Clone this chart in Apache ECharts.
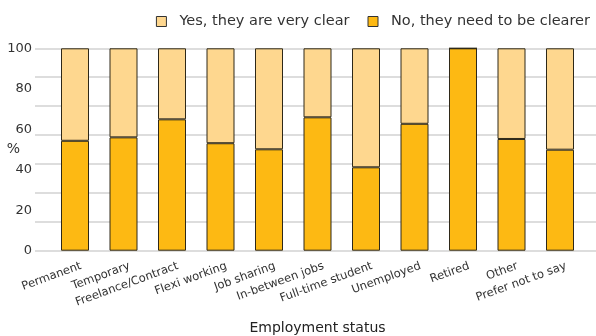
<!DOCTYPE html>
<html><head><meta charset="utf-8">
<script src="https://cdn.jsdelivr.net/npm/echarts@6/dist/echarts.min.js"></script>
<style>html,body{margin:0;padding:0;background:#fff}#c{width:596px;height:336px}</style>
</head><body><div id="c"></div>
<script>
var categories = ['Permanent','Temporary','Freelance/Contract','Flexi working','Job sharing','In-between jobs','Full-time student','Unemployed','Retired','Other','Prefer not to say'];
var noValues = [54.3, 56.0, 64.9, 53.1, 50.1, 65.9, 41.2, 62.7, 100, 55.2, 49.9];
var yesValues = noValues.map(function(v){ return +(100 - v).toFixed(1); });
var yTicks = [0, 20, 40, 60, 80, 100];

var font = 'DejaVu Sans, sans-serif';
var chart = echarts.init(document.getElementById('c'), null, {renderer:'canvas'});
var gridTop = 48.3, gridBottom = 85.3;
chart.setOption({
  animation: false,
  legend: {
    data: ['Yes, they are very clear', 'No, they need to be clearer'],
    right: 1, top: 9, icon: 'rect', itemWidth: 10, itemHeight: 10, itemGap: 18,
    textStyle: {fontFamily: font, fontSize: 14.5, color: '#333', padding: [0, 0, 0, 8]},
    itemStyle: {borderColor: '#333', borderWidth: 1}
  },
  grid: [
    {left: 50.75, right: 11.75, top: gridTop, bottom: gridBottom, outerBoundsMode: 'none', containLabel: false},
    {left: 35, right: 0, top: gridTop, bottom: gridBottom, outerBoundsMode: 'none', containLabel: false},
    {left: 56.75, right: 5.75, top: gridTop, bottom: gridBottom, outerBoundsMode: 'none', containLabel: false}
  ],
  xAxis: [
    {type: 'category', gridIndex: 0, data: categories,
     axisLine: {show: false}, axisTick: {show: false}, axisLabel: {show: false},
     name: 'Employment status', nameLocation: 'middle', nameGap: 71, nameMoveOverlap: false,
     nameTextStyle: {fontFamily: font, fontSize: 14, color: '#222'}},
    {type: 'value', gridIndex: 1, show: false, min: 0, max: 1},
    {type: 'category', gridIndex: 2, data: categories,
     axisLine: {show: false}, axisTick: {show: false},
     axisLabel: {rotate: 20, fontFamily: font, fontSize: 11.5, color: '#333', margin: 15, interval: 0}}
  ],
  yAxis: [
    {type: 'value', gridIndex: 0, min: 0, max: 100, show: false},
    {type: 'value', gridIndex: 1, min: 0, max: 7, interval: 1,
     axisLine: {show: false}, axisTick: {show: false}, axisLabel: {show: false},
     splitLine: {show: true, lineStyle: {color: '#d2d2d2', width: 1.5}}},
    {type: 'value', gridIndex: 1, min: 0, max: 100, interval: 20, position: 'left',
     axisLine: {show: false}, axisTick: {show: false}, splitLine: {show: false},
     axisLabel: {fontFamily: font, fontSize: 13, color: '#333', margin: 3,
       formatter: function(v){ return yTicks.indexOf(v) >= 0 ? String(v) : ''; }},
     name: '%', nameLocation: 'middle', nameRotate: 0, nameGap: 15, nameMoveOverlap: false,
     nameTextStyle: {fontFamily: font, fontSize: 14, color: '#333'}},
    {type: 'value', gridIndex: 2, show: false, min: 0, max: 100}
  ],
  series: [
    {name: 'No, they need to be clearer', type: 'bar', stack: 's', xAxisIndex: 0, yAxisIndex: 0,
     data: noValues, barWidth: 28,
     itemStyle: {color: '#fdb913', borderColor: '#2e2818', borderWidth: 1}},
    {name: 'Yes, they are very clear', type: 'bar', stack: 's', xAxisIndex: 0, yAxisIndex: 0,
     data: yesValues, barWidth: 28,
     itemStyle: {color: '#fed78f', borderColor: '#2e2818', borderWidth: 1}}
  ]
});
</script></body></html>
